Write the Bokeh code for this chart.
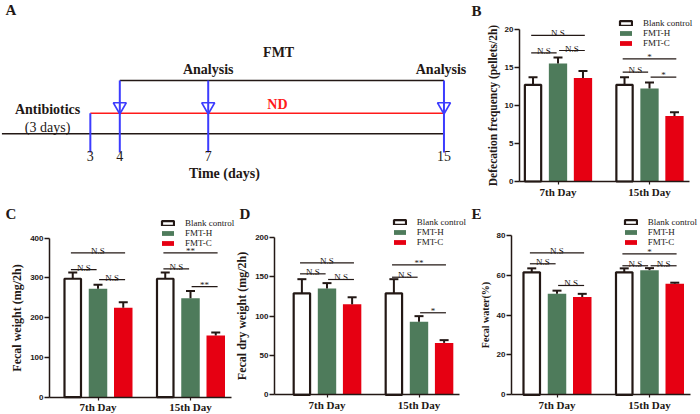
from bokeh.plotting import figure
from bokeh.models import Range1d, FixedTicker, Legend, LegendItem, Label
from bokeh.layouts import row, column
from bokeh.embed import file_html
from bokeh.resources import INLINE
from bokeh.core.properties import value

# ---------------- data ----------------
groups = ["7th Day", "15th Day"]
series = ["Blank control", "FMT-H", "FMT-C"]

# Panel A: timeline (days)
antibiotic_start = 3
fmt_days = [4, 7, 15]
analysis_days = [7, 15]
tick_days = [3, 4, 7, 15]

# Panel B: defecation frequency (pellets/2h)
defec_mean = [[12.7, 12.7], [15.5, 12.2], [13.6, 8.6]]
defec_sem = [[1.0, 1.0], [0.8, 0.8], [0.9, 0.5]]
defec_ticks = [0, 5, 10, 15, 20]
defec_sig = [(0, 0, 2, 19.2, "N.S"), (0, 0, 1, 16.9, "N.S"), (0, 1, 2, 17.2, "N.S"),
             (1, 0, 2, 16.1, "*"), (1, 0, 1, 14.35, "N.S"), (1, 1, 2, 13.7, "*")]

# Panel C: fecal weight (mg/2h)
weight_mean = [[298, 298], [273, 249], [225, 155]]
weight_sem = [[16, 16], [10, 18], [14, 8]]
weight_ticks = [0, 100, 200, 300, 400]
weight_sig = [(0, 0, 2, 363, "N.S"), (0, 0, 1, 321, "N.S"), (0, 1, 2, 296, "N.S"),
              (1, 0, 2, 363, "**"), (1, 0, 1, 323, "N.S"), (1, 1, 2, 278, "**")]

# Panel D: fecal dry weight (mg/2h)
dry_mean = [[129, 129], [135, 93], [115, 66]]
dry_sem = [[18, 18], [7, 7], [9, 3.5]]
dry_ticks = [0, 50, 100, 150, 200]
dry_sig = [(0, 0, 2, 167.8, "N.S"), (0, 0, 1, 153.8, "N.S"), (0, 1, 2, 146.6, "N.S"),
           (1, 0, 2, 165.3, "**"), (1, 0, 1, 149.5, "N.S"), (1, 1, 2, 104.3, "*")]

# Panel E: fecal water (%)
water_mean = [[61.5, 61.5], [50.8, 62.6], [49.1, 55.8]]
water_sem = [[2.0, 2.0], [1.5, 1.0], [1.6, 0.5]]
water_ticks = [0, 20, 40, 60, 80]
water_sig = [(0, 0, 2, 71.3, "N.S"), (0, 0, 1, 65.8, "N.S"), (0, 1, 2, 54.9, "N.S"),
             (1, 0, 2, 70.8, "*"), (1, 0, 1, 64.8, "N.S"), (1, 1, 2, 64.8, "N.S")]

# ---------------- style ----------------
SERIF = "Liberation Serif"
SANS = "Liberation Sans"
INK = "#231815"
BLUE = "#3c3cff"
RED = "#e60012"
ND_RED = "#ff1a1a"
GREEN = "#4e7b5b"
FILLS = ["white", GREEN, RED]
OFFSETS = [-0.273, 0.0, 0.273]
BAR_W = 0.2


def no_align(p):
    try:
        p.frame_align = False
    except Exception:
        pass


def letter_label(p, text, x, y):
    p.add_layout(Label(x=x, y=y, text=text,
                       text_font=SERIF, text_font_style="bold", text_font_size="15px",
                       text_color=INK, text_baseline="middle", text_align="left"))


def bar_panel(letter, ylabel, ylabel_size, means, sems, ticks, sig,
              W, H, axis_x, axis_y, top_y, green_x, spacing, leg_x, leg_top, let_x, let_y):
    top_val = ticks[-1]
    ppu_y = (axis_y - top_y) / top_val
    y_start = -(H - axis_y) / ppu_y          # frame spans the whole figure height
    y_end = axis_y / ppu_y
    x_start = 1 - green_x / spacing          # frame spans the whole figure width
    x_end = x_start + W / spacing
    x_axis_pos = x_start + axis_x / spacing  # where the y axis line sits
    p = figure(width=W, height=H, x_range=Range1d(x_start, x_end), y_range=Range1d(y_start, y_end),
               output_backend="svg", toolbar_location=None, min_border=0)
    no_align(p)
    p.outline_line_color = None
    p.grid.visible = False

    renderers = []
    for s in range(3):
        xs = [g + 1 + OFFSETS[s] for g in range(2)]
        w = BAR_W - (2.0 / spacing if s == 0 else 0)
        r = p.vbar(x=xs, top=means[s], width=w, bottom=0, fill_color=FILLS[s],
                   line_color=INK if s == 0 else None, line_width=2.2)
        renderers.append(r)
        tops = [m + e for m, e in zip(means[s], sems[s])]
        p.segment(x0=xs, y0=means[s], x1=xs, y1=tops, line_color=INK, line_width=2)
        cap = 4.5 / spacing
        p.segment(x0=[x - cap for x in xs], y0=tops, x1=[x + cap for x in xs], y1=tops,
                  line_color=INK, line_width=2)

    # significance brackets
    x0s, x1s, ys, labs, xm = [], [], [], [], []
    for g, i, j, yv, lab in sig:
        ci = g + 1 + OFFSETS[i]
        cj = g + 1 + OFFSETS[j]
        a = ci - 0.02 if i == 0 else ci + 0.012
        b = cj + 0.02 if j == 2 else cj - 0.015
        x0s.append(a); x1s.append(b); ys.append(yv); labs.append(lab); xm.append((a + b) / 2)
    p.segment(x0=x0s, y0=ys, x1=x1s, y1=ys, line_color=INK, line_width=1.2)
    p.text(x=xm, y=ys, text=labs, text_font=value(SERIF), text_font_size="9px",
           text_align="center", text_baseline="alphabetic", y_offset=-2, text_color=INK)

    # axes
    ax = p.yaxis[0]
    ax.fixed_location = x_axis_pos
    ax.ticker = FixedTicker(ticks=ticks)
    ax.bounds = (0, top_val)
    ax.axis_label = ylabel
    ax.axis_label_text_font = SERIF
    ax.axis_label_text_font_style = "bold"
    ax.axis_label_text_font_size = ylabel_size
    ax.axis_label_text_color = INK
    ax.axis_label_standoff = 3
    ax.major_label_text_font = SANS
    ax.major_label_text_font_style = "bold"
    ax.major_label_text_font_size = "8px"
    ax.major_label_text_color = INK
    ax.major_label_standoff = 1
    ax.major_tick_out = 5
    ax.major_tick_in = 0
    ax.minor_tick_out = 0
    ax.minor_tick_in = 0
    ax.axis_line_width = 1.5
    ax.major_tick_line_width = 1.5
    ax.axis_line_color = INK
    ax.major_tick_line_color = INK

    bx = p.xaxis[0]
    bx.fixed_location = 0
    bx.ticker = FixedTicker(ticks=[1, 2])
    bx.major_label_overrides = {1: groups[0], 2: groups[1]}
    bx.bounds = (x_axis_pos, 2 + OFFSETS[2] + BAR_W / 2 + 6.0 / spacing)
    bx.axis_label = None
    bx.major_label_text_font = SERIF
    bx.major_label_text_font_style = "bold"
    bx.major_label_text_font_size = "11px"
    bx.major_label_text_color = INK
    bx.major_label_standoff = 1
    bx.major_tick_out = 3
    bx.major_tick_in = 0
    bx.minor_tick_out = 0
    bx.minor_tick_in = 0
    bx.axis_line_width = 1.5
    bx.major_tick_line_width = 1.2
    bx.axis_line_color = INK
    bx.major_tick_line_color = INK

    leg_h = 28
    legend = Legend(items=[LegendItem(label=series[s], renderers=[renderers[s]]) for s in range(3)],
                    location=(leg_x, H - leg_top - leg_h),
                    glyph_width=15, glyph_height=6, label_height=9, spacing=-1,
                    padding=0, margin=0, label_standoff=10,
                    label_text_font=SERIF, label_text_font_size="9px", label_text_color=INK,
                    border_line_color=None, background_fill_alpha=0)
    p.add_layout(legend)
    letter_label(p, letter, x_start + let_x / spacing, (axis_y - let_y) / ppu_y)
    return p


# ---------------- panel A ----------------
A_W, A_H = 470, 200
px_per_day = 29.47
day4_x = 119.3  # px in figure
a_x0 = 4 - day4_x / px_per_day
a_x1 = a_x0 + A_W / px_per_day
pa = figure(width=A_W, height=A_H, x_range=Range1d(a_x0, a_x1), y_range=Range1d(A_H, 0),
            output_backend="svg", toolbar_location=None, min_border=0,
            x_axis_location=None, y_axis_location=None)
no_align(pa)
pa.outline_line_color = None
pa.grid.visible = False

lvl_fmt, lvl_nd, lvl_base, lvl_bottom, lvl_tri = 80, 112.7, 133.3, 152, 106
last_day = fmt_days[-1]
pa.segment(x0=[0, fmt_days[0]], y0=[lvl_base, lvl_fmt], x1=[last_day, last_day], y1=[lvl_base, lvl_fmt],
           line_color=INK, line_width=1.4)
pa.segment(x0=[antibiotic_start], y0=[lvl_nd], x1=[last_day], y1=[lvl_nd], line_color=ND_RED, line_width=1.4)
pa.segment(x0=[antibiotic_start] + fmt_days, y0=[lvl_nd] + [lvl_fmt] * len(fmt_days),
           x1=[antibiotic_start] + fmt_days, y1=[lvl_bottom] * (len(fmt_days) + 1),
           line_color=BLUE, line_width=2)
pa.scatter(x=fmt_days, y=[lvl_tri] * len(fmt_days), marker="inverted_triangle", size=13,
           fill_color=None, line_color=BLUE, line_width=1.6)
pa.text(x=tick_days, y=[155.3] * len(tick_days), text=[str(d) for d in tick_days],
        text_font=value(SERIF), text_font_size="14px", text_align="center",
        text_baseline="middle", text_color=INK)
bold_txt = dict(text_font=value(SERIF), text_font_size="14px", text_font_style="bold",
                text_align="center", text_baseline="middle")
pa.text(x=[7.55], y=[173], text=["Time (days)"], text_color=INK, **bold_txt)
pa.text(x=[9.39], y=[52], text=["FMT"], text_color=INK, **bold_txt)
pa.text(x=[analysis_days[0], analysis_days[1] - 0.1], y=[69, 69], text=["Analysis", "Analysis"],
        text_color=INK, **bold_txt)
pa.text(x=[9.35], y=[104], text=["ND"], text_color=ND_RED, **bold_txt)
pa.text(x=[1.55], y=[109], text=["Antibiotics"], text_color=INK, **bold_txt)
pa.text(x=[1.55], y=[127], text=["(3 days)"], text_font=value(SERIF), text_font_size="14px",
        text_align="center", text_baseline="middle", text_color=INK)
letter_label(pa, "A", a_x0 + 5 / px_per_day, 9)

# ---------------- panels B-E ----------------
pb = bar_panel("B", "Defecation frequency (pellets/2h)", "11.5px", defec_mean, defec_sem, defec_ticks, defec_sig,
               W=230, H=200, axis_x=49, axis_y=181, top_y=28.7, green_x=87.5, spacing=91.5,
               leg_x=148, leg_top=20, let_x=1, let_y=10)
pc = bar_panel("C", "Fecal weight (mg/2h)", "12px", weight_mean, weight_sem, weight_ticks, weight_sig,
               W=235, H=214, axis_x=49, axis_y=196.7, top_y=37.7, green_x=97.5, spacing=92.5,
               leg_x=160, leg_top=20, let_x=5, let_y=13)
pd_ = bar_panel("D", "Fecal dry weight (mg/2h)", "12px", dry_mean, dry_sem, dry_ticks, dry_sig,
                W=235, H=214, axis_x=39, axis_y=194.3, top_y=37, green_x=91.5, spacing=92,
                leg_x=156.7, leg_top=19, let_x=4, let_y=13)
pe = bar_panel("E", "Fecal water(%)", "10px", water_mean, water_sem, water_ticks, water_sig,
               W=230, H=214, axis_x=41, axis_y=194.3, top_y=35, green_x=86.5, spacing=92.5,
               leg_x=152.7, leg_top=19, let_x=1, let_y=13)

layout = column(row(pa, pb), row(pc, pd_, pe))
open("out.html", "w").write(file_html(layout, INLINE))
